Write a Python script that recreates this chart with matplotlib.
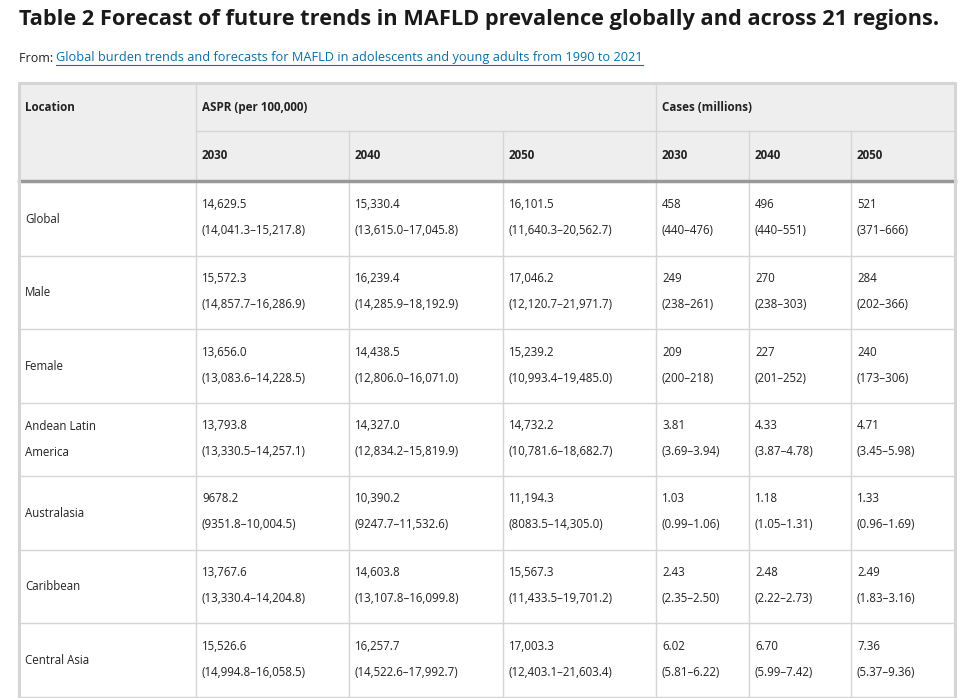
import matplotlib.pyplot as plt
from matplotlib.patches import Rectangle

# table contents
locations = ['Global', 'Male', 'Female', 'Andean Latin\nAmerica', 'Australasia',
             'Caribbean', 'Central Asia']
years = ['2030', '2040', '2050']

aspr_2030 = [14629.5, 15572.3, 13656.0, 13793.8, 9678.2, 13767.6, 15526.6]
aspr_2030_lo = [14041.3, 14857.7, 13083.6, 13330.5, 9351.8, 13330.4, 14994.8]
aspr_2030_hi = [15217.8, 16286.9, 14228.5, 14257.1, 10004.5, 14204.8, 16058.5]
aspr_2040 = [15330.4, 16239.4, 14438.5, 14327.0, 10390.2, 14603.8, 16257.7]
aspr_2040_lo = [13615.0, 14285.9, 12806.0, 12834.2, 9247.7, 13107.8, 14522.6]
aspr_2040_hi = [17045.8, 18192.9, 16071.0, 15819.9, 11532.6, 16099.8, 17992.7]
aspr_2050 = [16101.5, 17046.2, 15239.2, 14732.2, 11194.3, 15567.3, 17003.3]
aspr_2050_lo = [11640.3, 12120.7, 10993.4, 10781.6, 8083.5, 11433.5, 12403.1]
aspr_2050_hi = [20562.7, 21971.7, 19485.0, 18682.7, 14305.0, 19701.2, 21603.4]

cases_2030 = [458, 249, 209, 3.81, 1.03, 2.43, 6.02]
cases_2030_lo = [440, 238, 200, 3.69, 0.99, 2.35, 5.81]
cases_2030_hi = [476, 261, 218, 3.94, 1.06, 2.50, 6.22]
cases_2040 = [496, 270, 227, 4.33, 1.18, 2.48, 6.70]
cases_2040_lo = [440, 238, 201, 3.87, 1.05, 2.22, 5.99]
cases_2040_hi = [551, 303, 252, 4.78, 1.31, 2.73, 7.42]
cases_2050 = [521, 284, 240, 4.71, 1.33, 2.49, 7.36]
cases_2050_lo = [371, 202, 173, 3.45, 0.96, 1.83, 5.37]
cases_2050_hi = [666, 366, 306, 5.98, 1.69, 3.16, 9.36]


def fmt_aspr(v):
    return f'{v:,.1f}' if v >= 10000 else f'{v:.1f}'


def fmt_cases(v):
    return f'{v:.0f}' if v >= 100 else f'{v:.2f}'


columns = [
    (aspr_2030, aspr_2030_lo, aspr_2030_hi, fmt_aspr),
    (aspr_2040, aspr_2040_lo, aspr_2040_hi, fmt_aspr),
    (aspr_2050, aspr_2050_lo, aspr_2050_hi, fmt_aspr),
    (cases_2030, cases_2030_lo, cases_2030_hi, fmt_cases),
    (cases_2040, cases_2040_lo, cases_2040_hi, fmt_cases),
    (cases_2050, cases_2050_lo, cases_2050_hi, fmt_cases),
]

plt.rcParams['font.family'] = ['Open Sans', 'DejaVu Sans']

fig = plt.figure(figsize=(9.79, 6.98), dpi=100)
ax = fig.add_axes([0, 0, 1, 1])
ax.set_xlim(0, 979)
ax.set_ylim(698, 0)
ax.axis('off')

txt = '#222222'
grid = '#d5d5d5'
link_c = '#0a6ea8'
left, right = 19, 955
col_x = [19, 196, 349, 503, 656, 749, 851, 955]
top, mid, hdr_bot = 83, 131, 181
row_h = 73.5

ax.text(19, 19, 'Table 2 Forecast of future trends in MAFLD prevalence globally and across 21 regions.',
        fontsize=15.7, fontweight='bold', color='#1a1a1a', va='center', ha='left')
ax.text(19, 58, 'From: ', fontsize=9, color=txt, va='center', ha='left')
link = ax.text(56, 58, 'Global burden trends and forecasts for MAFLD in adolescents and young adults from 1990 to 2021',
               fontsize=9.15, color=link_c, va='center', ha='left')
fig.canvas.draw()
bb = link.get_window_extent().transformed(ax.transData.inverted())
ax.plot([bb.x0, bb.x1], [64.5, 64.5], color=link_c, lw=0.8)

# header block
ax.add_patch(Rectangle((left, top), right - left, hdr_bot - top, facecolor='#eeeeee', edgecolor='none'))
ax.plot([196, 196], [top, hdr_bot], color=grid, lw=1)
ax.plot([656, 656], [top, hdr_bot], color=grid, lw=1)
ax.plot([196, right], [mid, mid], color=grid, lw=1)
for x in [349, 503, 749, 851]:
    ax.plot([x, x], [mid, hdr_bot], color=grid, lw=1)

hs = 8.4
ax.text(25, 107.5, 'Location', fontsize=hs, fontweight='bold', color=txt, va='center')
ax.text(202, 107.5, 'ASPR (per 100,000)', fontsize=hs, fontweight='bold', color=txt, va='center')
ax.text(662, 107.5, 'Cases (millions)', fontsize=hs, fontweight='bold', color=txt, va='center')
for i in range(6):
    ax.text(col_x[i + 1] + 6, 155.5, years[i % 3], fontsize=hs, fontweight='bold', color=txt, va='center')

# body
bs = 8.3
y0 = hdr_bot + 1
for r, loc in enumerate(locations):
    rt = y0 + r * row_h
    ax.text(25, rt + row_h / 2 + 0.5, loc, fontsize=bs, color=txt, va='center', ha='left', linespacing=2.35)
    for c, (vals, lo, hi, f) in enumerate(columns):
        x = col_x[c + 1] + 6
        ax.text(x, rt + 23, f(vals[r]), fontsize=bs, color=txt, va='center')
        ax.text(x, rt + 49, f'({f(lo[r])}\u2013{f(hi[r])})', fontsize=bs, color=txt, va='center')
    ax.plot([left, right], [rt + row_h, rt + row_h], color=grid, lw=1)

for x in col_x[1:-1]:
    ax.plot([x, x], [hdr_bot, 698], color=grid, lw=1)

# header bottom rule and outer frame
ax.plot([left, right], [hdr_bot, hdr_bot], color='#999999', lw=2.5)
ax.plot([left, left, right, right], [700, top, top, 700], color=grid, lw=2.2)

fig.savefig('out.png', dpi=100)
